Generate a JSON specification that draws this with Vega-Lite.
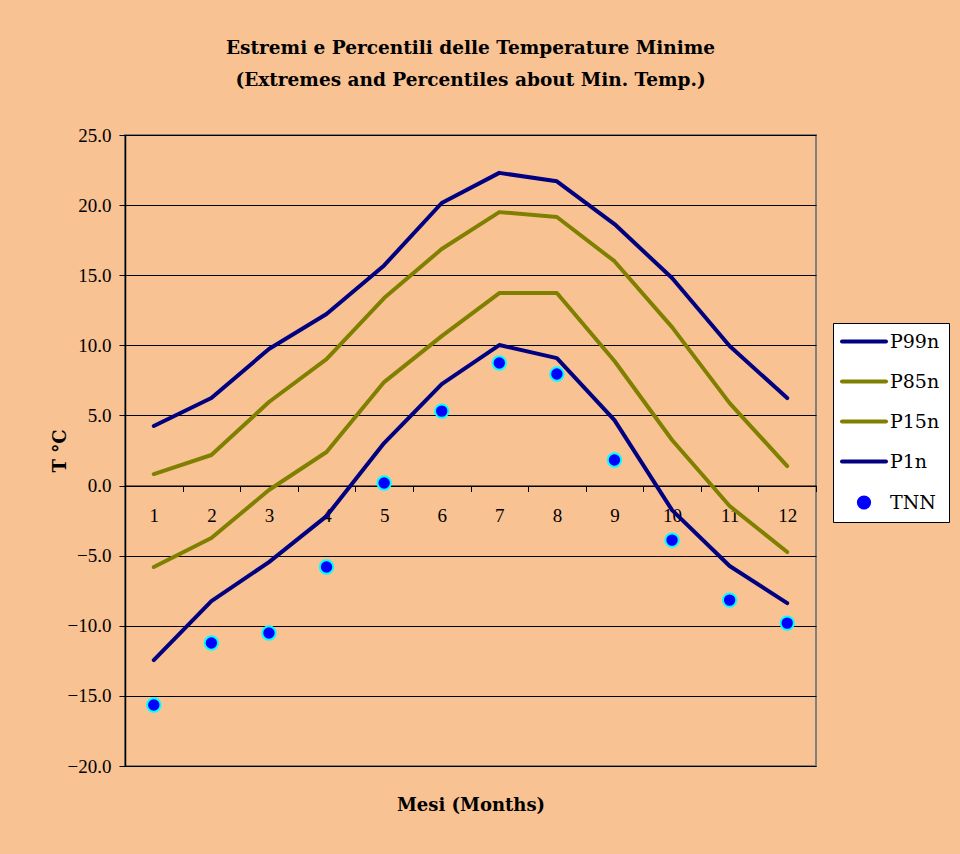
{
  "$schema": "https://vega.github.io/schema/vega-lite/v6.json",
  "autosize": {"type": "none"},
  "width": 691,
  "height": 631,
  "padding": {"left": 125, "top": 135, "right": 144, "bottom": 88},
  "background": "#f9c292",
  "title": {
    "text": ["Estremi e Percentili delle Temperature Minime", "(Extremes and Percentiles about Min. Temp.)"],
    "font": "DejaVu Serif",
    "fontSize": 18.5,
    "fontWeight": "bold",
    "lineHeight": 32,
    "anchor": "middle",
    "frame": "group",
    "offset": 37,
    "color": "#000000"
  },
  "config": {
    "view": {"stroke": "#808080", "strokeWidth": 2},
    "font": "Liberation Serif"
  },
  "data": {
    "values": [
      {"month": 1, "series": "P99n", "value": 4.25},
      {"month": 2, "series": "P99n", "value": 6.24},
      {"month": 3, "series": "P99n", "value": 9.74},
      {"month": 4, "series": "P99n", "value": 12.23},
      {"month": 5, "series": "P99n", "value": 15.7},
      {"month": 6, "series": "P99n", "value": 20.15},
      {"month": 7, "series": "P99n", "value": 22.3},
      {"month": 8, "series": "P99n", "value": 21.7},
      {"month": 9, "series": "P99n", "value": 18.65},
      {"month": 10, "series": "P99n", "value": 14.8},
      {"month": 11, "series": "P99n", "value": 9.95},
      {"month": 12, "series": "P99n", "value": 6.24},
      {"month": 1, "series": "P85n", "value": 0.82},
      {"month": 2, "series": "P85n", "value": 2.18},
      {"month": 3, "series": "P85n", "value": 5.96},
      {"month": 4, "series": "P85n", "value": 9.02},
      {"month": 5, "series": "P85n", "value": 13.37},
      {"month": 6, "series": "P85n", "value": 16.87},
      {"month": 7, "series": "P85n", "value": 19.5},
      {"month": 8, "series": "P85n", "value": 19.15},
      {"month": 9, "series": "P85n", "value": 16.0},
      {"month": 10, "series": "P85n", "value": 11.3},
      {"month": 11, "series": "P85n", "value": 5.88},
      {"month": 12, "series": "P85n", "value": 1.39},
      {"month": 1, "series": "P15n", "value": -5.81},
      {"month": 2, "series": "P15n", "value": -3.74},
      {"month": 3, "series": "P15n", "value": -0.32},
      {"month": 4, "series": "P15n", "value": 2.39},
      {"month": 5, "series": "P15n", "value": 7.38},
      {"month": 6, "series": "P15n", "value": 10.66},
      {"month": 7, "series": "P15n", "value": 13.73},
      {"month": 8, "series": "P15n", "value": 13.73},
      {"month": 9, "series": "P15n", "value": 8.88},
      {"month": 10, "series": "P15n", "value": 3.25},
      {"month": 11, "series": "P15n", "value": -1.46},
      {"month": 12, "series": "P15n", "value": -4.74},
      {"month": 1, "series": "P1n", "value": -12.45},
      {"month": 2, "series": "P1n", "value": -8.24},
      {"month": 3, "series": "P1n", "value": -5.46},
      {"month": 4, "series": "P1n", "value": -2.18},
      {"month": 5, "series": "P1n", "value": 3.03},
      {"month": 6, "series": "P1n", "value": 7.24},
      {"month": 7, "series": "P1n", "value": 10.02},
      {"month": 8, "series": "P1n", "value": 9.09},
      {"month": 9, "series": "P1n", "value": 4.67},
      {"month": 10, "series": "P1n", "value": -1.75},
      {"month": 11, "series": "P1n", "value": -5.74},
      {"month": 12, "series": "P1n", "value": -8.38},
      {"month": 1, "series": "TNN", "value": -15.65},
      {"month": 2, "series": "TNN", "value": -11.23},
      {"month": 3, "series": "TNN", "value": -10.52},
      {"month": 4, "series": "TNN", "value": -5.81},
      {"month": 5, "series": "TNN", "value": 0.18},
      {"month": 6, "series": "TNN", "value": 5.31},
      {"month": 7, "series": "TNN", "value": 8.74},
      {"month": 8, "series": "TNN", "value": 7.95},
      {"month": 9, "series": "TNN", "value": 1.82},
      {"month": 10, "series": "TNN", "value": -3.89},
      {"month": 11, "series": "TNN", "value": -8.17},
      {"month": 12, "series": "TNN", "value": -9.81}
    ]
  },
  "encoding": {
    "x": {
      "field": "month",
      "type": "ordinal",
      "scale": {"type": "band", "paddingInner": 0, "paddingOuter": 0},
      "axis": {
        "title": "Mesi (Months)",
        "titleFont": "DejaVu Serif",
        "titleFontSize": 18,
        "titleFontWeight": "bold",
        "titleColor": "#000000",
        "titleY": 320,
        "titleBaseline": "middle",
        "offset": -280.5,
        "labelAngle": 0,
        "labelFont": "Liberation Serif",
        "labelFontSize": 19,
        "labelColor": "#000000",
        "labelPadding": 15,
        "tickBand": "extent",
        "tickSize": 6,
        "tickColor": "#000000",
        "domainColor": "#000000",
        "domainWidth": 1,
        "grid": false
      }
    },
    "y": {
      "field": "value",
      "type": "quantitative",
      "scale": {"domain": [-20, 25], "nice": false, "zero": false},
      "axis": {
        "title": "T °C",
        "titleFont": "DejaVu Serif",
        "titleFontSize": 18,
        "titleFontWeight": "bold",
        "titleColor": "#000000",
        "titleX": -65,
        "titleY": 315.5,
        "titleAngle": -90,
        "titleAlign": "center",
        "titleBaseline": "middle",
        "values": [-20, -15, -10, -5, 0, 5, 10, 15, 20, 25],
        "format": ".1f",
        "labelFont": "Liberation Serif",
        "labelFontSize": 19,
        "labelColor": "#000000",
        "labelPadding": 8,
        "tickSize": 6,
        "tickColor": "#000000",
        "domainColor": "#000000",
        "domainWidth": 1.5,
        "grid": true,
        "gridColor": "#000000",
        "gridWidth": 1,
        "gridOpacity": 1
      }
    },
    "color": {
      "field": "series",
      "type": "nominal",
      "scale": {
        "domain": ["P99n", "P85n", "P15n", "P1n", "TNN"],
        "range": ["#000080", "#808000", "#808000", "#000080", "#0000ff"]
      },
      "legend": {
        "title": null,
        "orient": "none",
        "legendX": 708,
        "legendY": 188,
        "fillColor": "#ffffff",
        "strokeColor": "#000000",
        "padding": 9,
        "symbolType": "stroke",
        "symbolSize": 1936,
        "symbolStrokeWidth": 4,
        "labelFont": "DejaVu Serif",
        "labelFontSize": 19,
        "labelColor": "#000000",
        "labelOffset": 4,
        "rowPadding": 20,
        "encode": {
          "symbols": {
            "update": {
              "x": {"value": 22},
              "shape": {"signal": "datum.label === 'TNN' ? 'circle' : 'stroke'"},
              "size": {"signal": "datum.label === 'TNN' ? 150 : 1936"},
              "fill": {"signal": "datum.label === 'TNN' ? '#0000ff' : 'transparent'"},
              "stroke": {"signal": "datum.label === 'TNN' ? '#00ffff' : ((datum.label === 'P85n' || datum.label === 'P15n') ? '#808000' : '#000080')"},
              "strokeWidth": {"signal": "datum.label === 'TNN' ? 2 : 4"},
              "strokeCap": {"value": "round"}
            }
          },
          "labels": {
            "update": {
              "x": {"value": 48}
            }
          }
        }
      }
    }
  },
  "layer": [
    {
      "transform": [{"filter": "datum.series !== 'TNN'"}],
      "mark": {"type": "line", "strokeWidth": 4, "strokeCap": "round", "strokeJoin": "round"},
      "encoding": {"detail": {"field": "series", "type": "nominal"}}
    },
    {
      "transform": [{"filter": "datum.series === 'TNN'"}],
      "mark": {"type": "point", "filled": true, "size": 180, "stroke": "#00ffff", "strokeWidth": 2, "opacity": 1, "fill": "#0000ff"}
    }
  ]
}
